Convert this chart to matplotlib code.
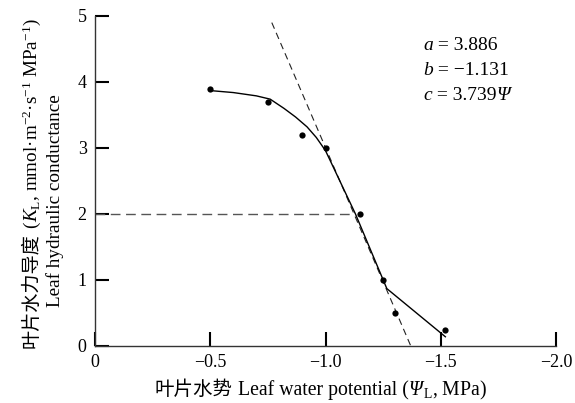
import matplotlib
matplotlib.use("Agg")
import matplotlib.pyplot as plt

plt.rcParams['font.family'] = ['Liberation Serif', 'Noto Sans CJK SC']
plt.rcParams['mathtext.fontset'] = 'custom'
plt.rcParams['mathtext.rm'] = 'Liberation Serif'
plt.rcParams['mathtext.it'] = 'Liberation Serif:italic'
plt.rcParams['mathtext.bf'] = 'Liberation Serif:bold'

# ---- data ----
obs_x = [-0.50, -0.75, -0.90, -1.00, -1.15, -1.25, -1.30, -1.52]
obs_y = [3.90, 3.70, 3.20, 3.00, 2.00, 1.00, 0.50, 0.25]

fit_x = [-0.50, -0.60, -0.70, -0.76, -0.82, -0.87, -0.92, -0.96, -1.00, -1.13, -1.266, -1.52]
fit_y = [3.87, 3.84, 3.79, 3.74, 3.60, 3.47, 3.32, 3.16, 2.96, 2.00, 0.87, 0.14]

tangent_x = [-0.767, -1.37]
tangent_y = [4.90, 0.00]

ref_x = [0.0, -1.13]
ref_y = [2.0, 2.0]

xticks = [0, -0.5, -1.0, -1.5, -2.0]
xtick_labels = ['0', '\u22120.5', '\u22121.0', '\u22121.5', '\u22122.0']
yticks = [0, 1, 2, 3, 4, 5]
ytick_labels = ['0', '1', '2', '3', '4', '5']

W, H = 575, 403
fig = plt.figure(figsize=(W / 100, H / 100), dpi=100)
ax = fig.add_axes([95 / W, 1 - 346 / H, (556 - 95) / W, (346 - 16) / H])

ax.plot(ref_x, ref_y, color='#555555', lw=1.0, dashes=(7, 4))
ax.plot(tangent_x, tangent_y, color='#222222', lw=0.8, dashes=(6, 4))
ax.plot(fit_x, fit_y, color='black', lw=1.0)
ax.plot(obs_x, obs_y, 'o', color='black', ms=4.5, mec='none')

ax.set_xlim(0, -2.0)
ax.set_ylim(0, 5)
ax.set_xticks(xticks)
ax.set_xticklabels(xtick_labels)
ax.set_yticks(yticks)
ax.set_yticklabels(ytick_labels)
for s in ['top', 'right']:
    ax.spines[s].set_visible(False)
for s in ['left', 'bottom']:
    ax.spines[s].set_color('#333333')
    ax.spines[s].set_linewidth(1.0)
ax.tick_params(axis='both', which='major', direction='in', length=10,
               width=1.5, color='black', labelsize=13, pad=6,
               bottom=True, left=True, top=False, right=False)

fig.canvas.draw()
renderer = fig.canvas.get_renderer()

def seg_text(pieces, x0, y0, rotation=0):
    """Place text pieces one after another; x0,y0 in pixels from bottom-left
    (start of baseline)."""
    pos = x0 if rotation == 0 else y0
    for s, kw in pieces:
        if rotation == 0:
            t = fig.text(pos / W, y0 / H, s, ha='left', va='baseline',
                         rotation=0, rotation_mode='anchor', **kw)
            bb = t.get_window_extent(renderer)
            pos += bb.width
        else:
            t = fig.text(x0 / W, pos / H, s, ha='left', va='baseline',
                         rotation=90, rotation_mode='anchor', **kw)
            bb = t.get_window_extent(renderer)
            pos += bb.height

lat14 = dict(family=['Liberation Serif'], fontsize=14)
it14 = dict(family=['Liberation Serif'], fontsize=14, style='italic')

# annotation (baselines in pixels from bottom)
ann_x = 423
seg_text([('a', it14), (' = 3.886', lat14)], ann_x, H - 50)
seg_text([('b', it14), (' = \u22121.131', lat14)], ann_x, H - 75)
seg_text([('c', it14), (' = 3.739', lat14), ('Ψ', it14)], ann_x, H - 100)

cjk_x = dict(family=['Noto Sans CJK SC'], fontsize=14)
lat_x = dict(family=['Liberation Serif'], fontsize=14.2)
it_x = dict(family=['Liberation Serif'], fontsize=14.2, style='italic')

# x label
seg_text([('叶片水势', cjk_x),
          (' Leaf water potential (', lat_x),
          ('Ψ', it_x),
          ('${}_\\mathrm{L}$, MPa)', lat_x)],
         155, 8)

cjk_y = dict(family=['Noto Sans CJK SC'], fontsize=13.8)
lat_y1 = dict(family=['Liberation Serif'], fontsize=13.8)
lat_y2 = dict(family=['Liberation Serif'], fontsize=13.8)

# y label line 1
seg_text([('叶片水力导度', cjk_y),
          (' ($\\mathit{K}_\\mathrm{L}$, mmol·m$^{-2}$·s$^{-1}$ MPa$^{-1}$)', lat_y1)],
         37, H - 348, rotation=90)
# y label line 2
seg_text([('Leaf hydraulic conductance', lat_y2)], 60, H - 307, rotation=90)

fig.savefig('out.png', dpi=100)
